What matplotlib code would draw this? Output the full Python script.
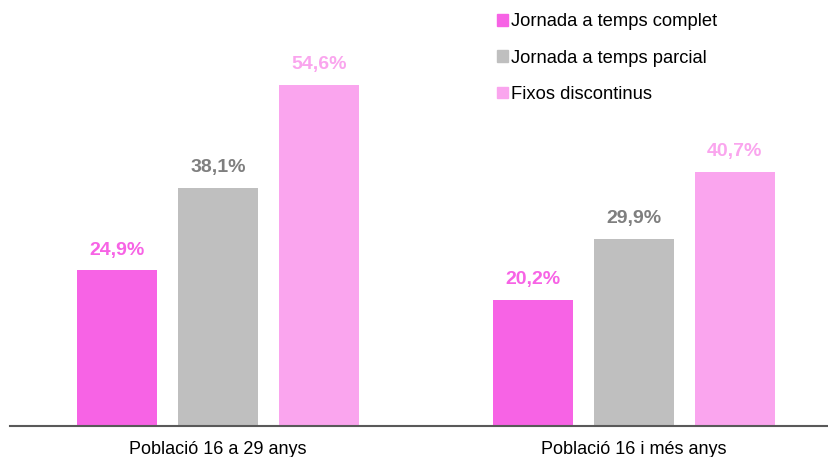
import matplotlib
matplotlib.use("Agg")
import matplotlib.pyplot as plt
from matplotlib.patches import Patch
import numpy as np

plt.rcParams['font.family'] = ['Liberation Sans', 'DejaVu Sans']

categories = ["Població 16 a 29 anys", "Població 16 i més anys"]
series_names = ["Jornada a temps complet", "Jornada a temps parcial", "Fixos discontinus"]
values = {
    "Jornada a temps complet": [24.9, 20.2],
    "Jornada a temps parcial": [38.1, 29.9],
    "Fixos discontinus": [54.6, 40.7],
}
bar_colors = ["#F763E5", "#BFBFBF", "#FAA5EE"]
label_colors = ["#F763E5", "#7F7F7F", "#FAA5EE"]

fig = plt.figure(figsize=(8.29, 4.57), dpi=100)
ax = fig.add_axes([10/829, 31/457, 819/829, 406/457])

x = np.arange(len(categories))
width = 80/416
step = 101/416
for i, name in enumerate(series_names):
    xs = x + (i - 1) * step
    vals = values[name]
    ax.bar(xs, vals, width=width, color=bar_colors[i], label=name, zorder=2)
    for xi, v in zip(xs, vals):
        ax.text(xi, v + 1.9, f"{v:.1f}%".replace(".", ","), ha="center", va="bottom",
                fontsize=14, fontweight="bold", color=label_colors[i])

ax.set_xlim(-0.5, 1.47)
ax.set_ylim(0, 65)
ax.set_xticks(x)
ax.set_xticklabels(categories, fontsize=13)
ax.tick_params(axis="x", length=0, pad=11)
ax.set_yticks([])
for s in ["top", "right", "left"]:
    ax.spines[s].set_visible(False)
ax.spines["bottom"].set_color("#595959")
ax.spines["bottom"].set_linewidth(1.5)

handles = [Patch(color=c) for c in bar_colors]
leg = fig.legend(handles, series_names, loc="upper left", bbox_to_anchor=(490/829, 1 - 6/457),
                 frameon=False, fontsize=13.2, handlelength=0.6, handleheight=0.6,
                 handletextpad=0.16, labelspacing=1.05, borderaxespad=0)
fig.savefig("out.png", dpi=100)
